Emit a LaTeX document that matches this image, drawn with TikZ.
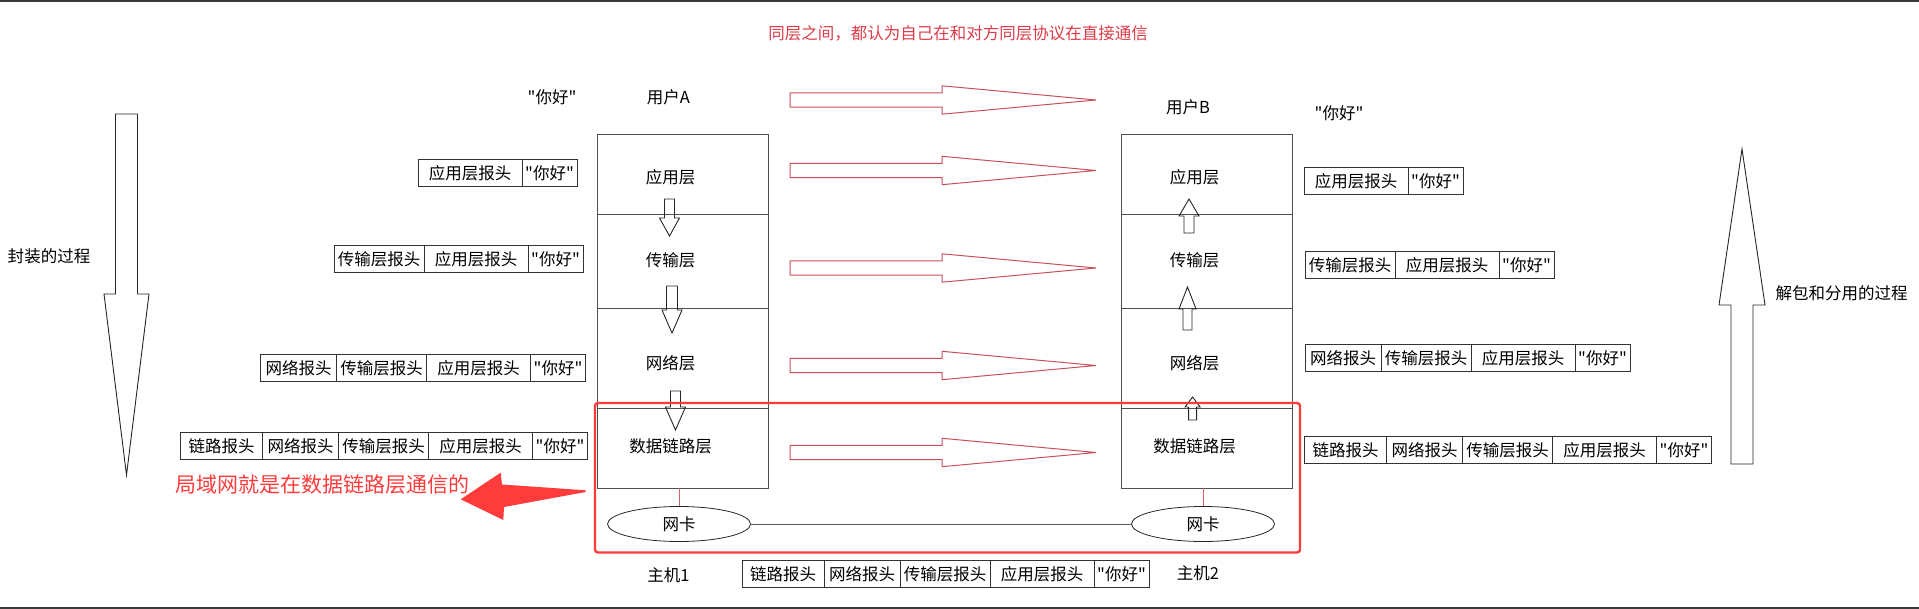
\documentclass[tikz,border=0pt]{standalone}
\usepackage{fontspec}
\setmainfont{Noto Sans CJK SC}[Ligatures=TeXOff]
\usepackage{xcolor}
\usetikzlibrary{shapes.geometric,positioning}

\definecolor{peerred}{HTML}{C8505A}
\definecolor{titlered}{HTML}{DC3C48}
\definecolor{lanred}{HTML}{FF3B3B}
\definecolor{linkred}{HTML}{D06070}
\definecolor{layergray}{HTML}{505050}
\definecolor{screen}{HTML}{3A3A3A}

\begin{document}
\begin{tikzpicture}[x=1pt, y=-1pt, font=\fontsize{16.5}{19}\selectfont]
        \tikzset{
            layer/.style={draw=layergray, line width=1pt, minimum width=171, inner sep=0, outer sep=0},
            hdr/.style={draw=black!80, line width=0.9pt, minimum height=27, inner sep=0, outer sep=0},
            lkhdr/.style={hdr, minimum width=82},
            nthdr/.style={hdr, minimum width=76},
            trhdr/.style={hdr, minimum width=90},
            aphdr/.style={hdr, minimum width=104},
            dtbox/.style={hdr, minimum width=55},
            nic/.style={draw=black!85, ellipse, line width=0.8pt, minimum width=143, minimum height=35, inner sep=0},
            peer/.style={draw=peerred, line width=1pt, line join=miter},
            blk/.style={draw=black!85, line width=0.9pt},
            frame/.style={draw=lanred, line width=2.4pt, rounded corners=3pt}
        }
        \useasboundingbox (0,0) rectangle (1919,609);

        % screen edges
        \draw [screen, line width=2.5pt] (0,1.25) -- (1919,1.25);
        \draw [screen, line width=2pt] (0,608) -- (1919,608);

        % Title
        \node [text=titlered] (title) at (958,33) {同层之间，都认为自己在和对方同层协议在直接通信};

        % Host A stack
        \node [layer, minimum height=80, anchor=north west] (appA) at (597,135) {};
        \node [layer, minimum height=94, below=0pt of appA] (trnA) {};
        \node [layer, minimum height=99, below=0pt of trnA] (netA) {};
        \node [layer, minimum height=80, below=0pt of netA] (lnkA) {};
        \node at ([xshift=-12pt, yshift=-2pt]appA.center) {应用层};
        \node at ([xshift=-12pt, yshift=2pt]trnA.center) {传输层};
        \node at ([xshift=-12pt, yshift=-4.5pt]netA.center) {网络层};
        \node at ([xshift=-12pt, yshift=2pt]lnkA.center) {数据链路层};

        % Host B stack
        \node [layer, minimum height=80, anchor=north west] (appB) at (1121,135) {};
        \node [layer, minimum height=94, below=0pt of appB] (trnB) {};
        \node [layer, minimum height=99, below=0pt of trnB] (netB) {};
        \node [layer, minimum height=80, below=0pt of netB] (lnkB) {};
        \node at ([xshift=-12pt, yshift=-2pt]appB.center) {应用层};
        \node at ([xshift=-12pt, yshift=2pt]trnB.center) {传输层};
        \node at ([xshift=-12pt, yshift=-4.5pt]netB.center) {网络层};
        \node at ([xshift=-12pt, yshift=2pt]lnkB.center) {数据链路层};

        % Users and data
        \node (userA) at (668.5,97) {用户A};
        \node (userB) at (1188,107) {用户B};
        \node (msgA) at (552,97) {"你好"};
        \node (msgB) at (1339,113) {"你好"};

        % Peer arrows
        \foreach \yc in {100,170.5,268,365.5,452.5}
            \draw [peer] (790,\yc-7.2) -- (942,\yc-7.2) -- (942,\yc-14.2) -- (1096,\yc)
                -- (942,\yc+14.2) -- (942,\yc+7.2) -- (790,\yc+7.2) -- cycle;

        % Block arrows (centre x / shaft end / head base / tip / shaft half / head half)
        \foreach \cx/\ya/\yb/\yc/\sw/\hw in {669.5/199/218/236/5/10, 672/286/310/333/5.5/10,
                675.5/391/407/430/5/10, 1189/233/216/199/5/10, 1187.5/330/309/287/4.5/8.5,
                1192.6/420/407/397/4/7.5, 126.5/114/294/475/11/22.5, 1742/464/305/149/11/23}
            \draw [blk] (\cx-\sw,\ya) -- (\cx+\sw,\ya) -- (\cx+\sw,\yb) -- (\cx+\hw,\yb) -- (\cx,\yc)
                -- (\cx-\hw,\yb) -- (\cx-\sw,\yb) -- cycle;
        \node (enc) at (49,256) {封装的过程};
        \node (dec) at (1841.5,293) {解包和分用的过程};

        % Network cards
        \node [nic] (nicA) at (679,524) {网卡};
        \node [nic] (nicB) at (1203,524) {网卡};
        \draw [linkred, line width=0.9pt] (lnkA.south -| nicA.north) -- (nicA.north);
        \draw [linkred, line width=0.9pt] (lnkB.south -| nicB.north) -- (nicB.north);
        \draw [black!65, line width=1pt] (nicA.east) -- (nicB.west);
        \node (hostA) at (668.5,575) {主机1};
        \node (hostB) at (1198,573) {主机2};

        % LAN frame
        \draw [frame] (595,403) rectangle (1300,552.5);
        \fill [lanred] (460.7,499.3) -- (500.7,472.7) -- (502,484.5) -- (585.7,490.3) -- (585.7,492)
            -- (504,507) -- (503.3,520) -- cycle;
        \node [text=lanred, font=\fontsize{21}{24}\selectfont] (lan) at (322,485) {局域网就是在数据链路层通信的};

        % Packets, sender side
        \node [aphdr, anchor=west] (a1ap) at (418,173) {应用层报头};
        \node [dtbox, right=0pt of a1ap] (a1dt) {"你好"};

        \node [trhdr, anchor=west] (a2tr) at (334,259) {传输层报头};
        \node [aphdr, right=0pt of a2tr] (a2ap) {应用层报头};
        \node [dtbox, right=0pt of a2ap] (a2dt) {"你好"};

        \node [nthdr, anchor=west] (a3nt) at (260.5,368) {网络报头};
        \node [trhdr, right=0pt of a3nt] (a3tr) {传输层报头};
        \node [aphdr, right=0pt of a3tr] (a3ap) {应用层报头};
        \node [dtbox, right=0pt of a3ap] (a3dt) {"你好"};

        \node [lkhdr, anchor=west] (a4lk) at (180.5,446) {链路报头};
        \node [nthdr, right=0pt of a4lk] (a4nt) {网络报头};
        \node [trhdr, right=0pt of a4nt] (a4tr) {传输层报头};
        \node [aphdr, right=0pt of a4tr] (a4ap) {应用层报头};
        \node [dtbox, right=0pt of a4ap] (a4dt) {"你好"};

        % Packets, receiver side
        \node [aphdr, anchor=west] (b1ap) at (1304,181) {应用层报头};
        \node [dtbox, right=0pt of b1ap] (b1dt) {"你好"};

        \node [trhdr, anchor=west] (b2tr) at (1305,265) {传输层报头};
        \node [aphdr, right=0pt of b2tr] (b2ap) {应用层报头};
        \node [dtbox, right=0pt of b2ap] (b2dt) {"你好"};

        \node [nthdr, anchor=west] (b3nt) at (1305,358) {网络报头};
        \node [trhdr, right=0pt of b3nt] (b3tr) {传输层报头};
        \node [aphdr, right=0pt of b3tr] (b3ap) {应用层报头};
        \node [dtbox, right=0pt of b3ap] (b3dt) {"你好"};

        \node [lkhdr, anchor=west] (b4lk) at (1304.5,450) {链路报头};
        \node [nthdr, right=0pt of b4lk] (b4nt) {网络报头};
        \node [trhdr, right=0pt of b4nt] (b4tr) {传输层报头};
        \node [aphdr, right=0pt of b4tr] (b4ap) {应用层报头};
        \node [dtbox, right=0pt of b4ap] (b4dt) {"你好"};

        % Packet on the wire
        \node [lkhdr, anchor=west] (w1lk) at (742,574) {链路报头};
        \node [nthdr, right=0pt of w1lk] (w1nt) {网络报头};
        \node [trhdr, right=0pt of w1nt] (w1tr) {传输层报头};
        \node [aphdr, right=0pt of w1tr] (w1ap) {应用层报头};
        \node [dtbox, right=0pt of w1ap] (w1dt) {"你好"};
    \end{tikzpicture}
\end{document}
